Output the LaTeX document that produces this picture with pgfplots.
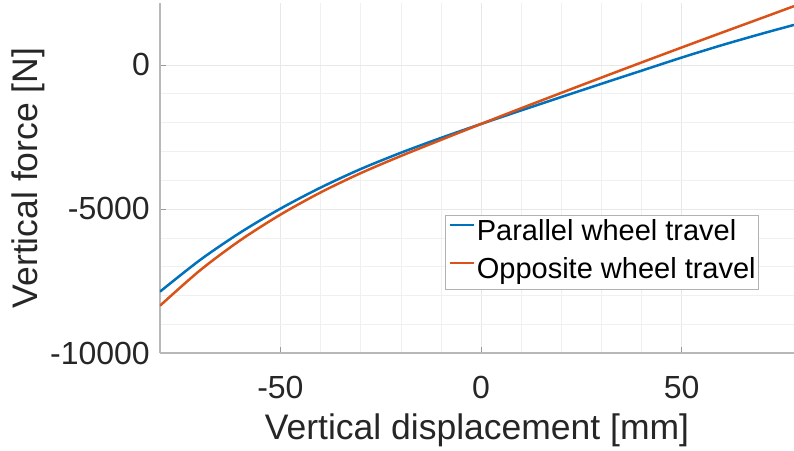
\documentclass[border=0pt]{standalone}
\usepackage{pgfplots}
\pgfplotsset{compat=1.18}
\usepackage{fontspec}
\setmainfont{Liberation Sans}

\definecolor{mblue}{HTML}{0072BD}
\definecolor{morange}{HTML}{D95319}
\definecolor{txt}{HTML}{262626}

% Parallel wheel travel: displacement [mm], vertical force [N]
\pgfplotstableread{
x y
-80 -7870
-70 -6770
-60 -5820
-50 -4990
-40 -4260
-30 -3615
-20 -3050
-10 -2535
0 -2050
10 -1580
20 -1115
30 -655
40 -200
50 255
60 685
70 1085
78 1389
}\parallelwt

% Opposite wheel travel
\pgfplotstableread{
x y
-80 -8358
-70 -7128
-60 -6088
-50 -5198
-40 -4428
-30 -3758
-20 -3163
-10 -2603
0 -2050
10 -1505
20 -970
30 -440
40 85
50 605
60 1120
70 1630
78 2040
}\oppositewt

\begin{document}
\begin{tikzpicture}
\begin{axis}[
  scale only axis,
  width=634pt, height=350pt,
  xmin=-80, xmax=78,
  ymin=-10000, ymax=2150,
  axis x line*=bottom, axis y line*=left,
  axis line style={black!28, line width=1.2pt},
  xtick={-50,0,50}, ytick={-10000,-5000,0},
  minor x tick num=4, minor y tick num=4,
  tick align=inside,
  major tick length=6pt, minor tick length=0pt,
  tick style={black!40, line width=0.8pt},
  grid=both,
  major grid style={black!9, line width=0.6pt},
  minor grid style={black!6, line width=0.5pt},
  scaled y ticks=false,
  /pgf/number format/assume math mode=true,
  /pgf/number format/1000 sep={},
  ticklabel style={font=\fontsize{32}{38}\selectfont, text=txt},
  xticklabel style={inner sep=0pt, anchor=north, yshift=-23pt},
  yticklabel style={inner sep=0pt, anchor=east, xshift=-10pt},
  xlabel={Vertical displacement [mm]},
  ylabel={Vertical force [N]},
  label style={font=\fontsize{35.5}{42}\selectfont, text=txt},
  xlabel style={at={(axis description cs:0.5,-0.22)}, anchor=center},
  ylabel style={at={(axis description cs:-0.2082,0.5)}, anchor=center},
  legend style={
    at={(0.945,0.394)}, anchor=north east,
    draw=black!30, line width=0.8pt, fill=white,
    font=\fontsize{29}{34}\selectfont,
    inner xsep=3pt, inner ysep=3.5pt,
    row sep=9pt, column sep=2pt,
    nodes={inner sep=0pt, text height=22pt, text depth=7pt},
  },
  legend cell align=left,
  legend image code/.code={\draw[#1, line width=2pt] (0pt,8pt) -- (24pt,8pt);},
]
\addplot[mblue, line width=2.5pt, smooth] table[x=x, y=y] {\parallelwt};
\addlegendentry{Parallel wheel travel}
\addplot[morange, line width=2.5pt, smooth] table[x=x, y=y] {\oppositewt};
\addlegendentry{Opposite wheel travel}
\coordinate (SW) at (rel axis cs:0,0);
\coordinate (NE) at (rel axis cs:1,1);
\end{axis}
\pgfresetboundingbox
\path[use as bounding box] ([xshift=-160pt, yshift=-98pt]SW) rectangle ([yshift=3pt]NE);
\end{tikzpicture}
\end{document}
